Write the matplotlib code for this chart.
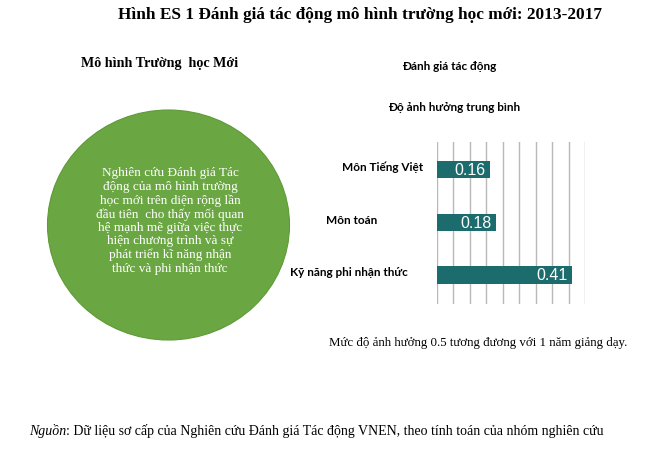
import matplotlib.pyplot as plt
from matplotlib.patches import Ellipse

# data
categories = ['Môn Tiếng Việt', 'Môn toán', 'Kỹ năng phi nhận thức']
effects = [0.16, 0.18, 0.41]
grid_ticks = [0.0, 0.05, 0.10, 0.15, 0.20, 0.25, 0.30, 0.35, 0.40, 0.45]

title = 'Hình ES 1 Đánh giá tác động mô hình trường học mới: 2013-2017'
left_heading = 'Mô hình Trường  học Mới'
circle_text = ('Nghiên cứu Đánh giá Tác\n'
               'động của mô hình trường\n'
               'học mới trên diện rộng lần\n'
               'đầu tiên  cho thấy mối quan\n'
               'hệ mạnh mẽ giữa việc thực\n'
               'hiện chương trình và sự\n'
               'phát triển kĩ năng nhận\n'
               'thức và phi nhận thức')
chart_title = 'Đánh giá tác động'
chart_subtitle = 'Độ ảnh hưởng trung bình'
note = 'Mức độ ảnh hưởng 0.5 tương đương với 1 năm giảng dạy.'
source = 'Dữ liệu sơ cấp của Nghiên cứu Đánh giá Tác động VNEN, theo tính toán của nhóm nghiên cứu'

W, H = 645, 456
fig = plt.figure(figsize=(W / 100, H / 100), dpi=100)

# full-figure overlay in pixel coordinates for the texts and the circle
bg = fig.add_axes([0, 0, 1, 1])
bg.set_xlim(0, W)
bg.set_ylim(H, 0)
bg.axis('off')

serif = 'Liberation Serif'
bg.text(360, 15, title, family=serif, fontsize=12.4, fontweight='bold',
        ha='center', va='center')
bg.text(160, 63, left_heading, family=serif, fontsize=10.2, fontweight='bold',
        ha='center', va='center')

bg.add_patch(Ellipse((168.5, 226), 242, 230, facecolor='#6aa742',
                     edgecolor='#5e9a38', lw=0.8))
bg.text(170, 221, circle_text, family=serif, fontsize=9.5, color='white',
        ha='center', va='center', linespacing=1.15)

bg.text(449, 66, chart_title, family='Lato', fontsize=8.5, fontweight='bold',
        ha='center', va='center')
bg.text(454, 108, chart_subtitle, family='Lato', fontsize=8.5, fontweight='bold',
        ha='center', va='center')

bg.text(627, 343, note, family=serif, fontsize=9.3, ha='right', va='center')
head = bg.text(29, 431, 'Nguồn', family=serif, fontsize=10, style='italic',
               ha='left', va='center')
fig.canvas.draw()
head_end = bg.transData.inverted().transform(
    (head.get_window_extent().x1, 0))[0]
bg.text(head_end, 431, ': ' + source, family=serif, fontsize=10,
        ha='left', va='center')

# bar chart
ax = fig.add_axes([436.7 / W, 1 - 305 / H, 148.5 / W, 162 / H])
ax.patch.set_alpha(0)
y = list(range(len(categories)))
ax.barh(y, effects, height=0.33, color='#1c6c6e', zorder=3)
ax.set_xlim(0, 0.45)
ax.set_ylim(2.55, -0.52)
ax.set_xticks(grid_ticks)
ax.set_yticks([])
ax.tick_params(axis='x', length=0, labelbottom=False)
ax.grid(axis='x', color='#b8b8b8', lw=1, zorder=0)
for s in ax.spines.values():
    s.set_visible(False)

label_pad = [14, 59, 29]
for i, (cat, val) in enumerate(zip(categories, effects)):
    ax.annotate(cat, xy=(0, i), xycoords=('axes fraction', 'data'),
                xytext=(-label_pad[i], 3), textcoords='offset pixels',
                ha='right', va='center', family='Lato', fontsize=8.5,
                fontweight='bold')
    ax.annotate(f'{val:.2f}', xy=(val, i), xytext=(-4, 0),
                textcoords='offset pixels', ha='right', va='center',
                color='white', family='Liberation Sans', fontsize=11.5, zorder=4)

fig.savefig('out.png', dpi=100)
